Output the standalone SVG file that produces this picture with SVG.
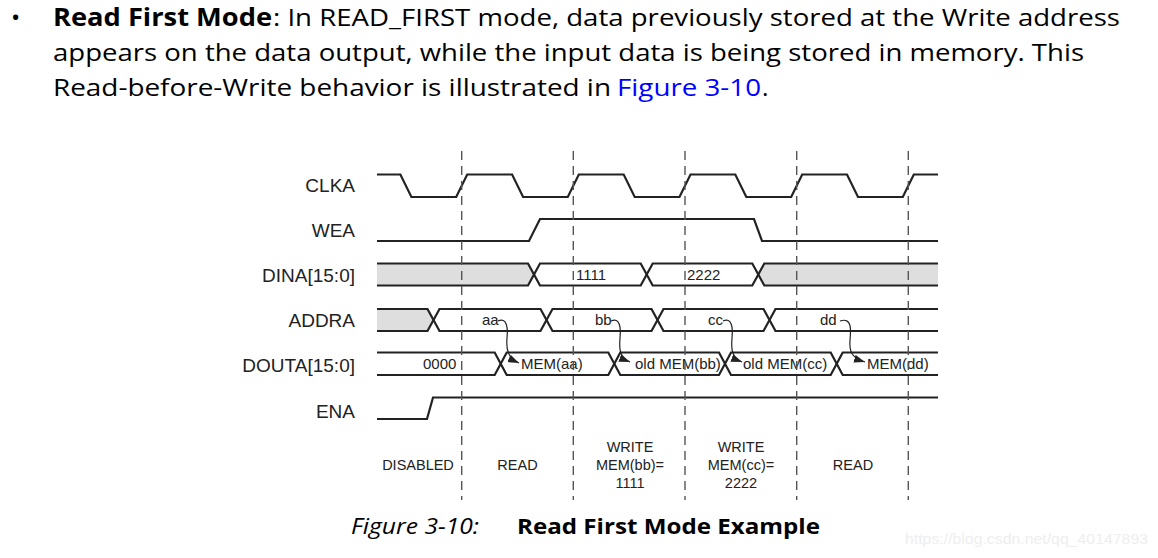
<svg xmlns="http://www.w3.org/2000/svg" width="1158" height="558" viewBox="0 0 1158 558">
<style>
.hdr{font-family:"Open Sans","Noto Sans",sans-serif;font-size:24.5px;fill:#000}
.b{font-weight:bold}
.lnk{fill:#0000ff}
.sig{font-family:"Liberation Sans",Arial,sans-serif;font-size:19px;fill:#222;text-anchor:end}
.val{font-family:"Liberation Sans",Arial,sans-serif;font-size:15px;fill:#222}
.ph{font-family:"Liberation Sans",Arial,sans-serif;font-size:14.5px;fill:#222;text-anchor:middle}
.w{fill:none;stroke:#222;stroke-width:2.2;stroke-linejoin:miter}
.g{fill:#dedede;stroke:none}
.dash{stroke:#555;stroke-width:1.4;stroke-dasharray:9 6;fill:none}
.arr{fill:none;stroke:#222;stroke-width:1.2}
.cap{font-family:"Open Sans","Noto Sans",sans-serif;font-size:21px;fill:#000}
.wm{font-family:"Liberation Sans",Arial,sans-serif;font-size:14px;fill:#eeeeee}
</style>
<defs>
<marker id="ah" markerUnits="userSpaceOnUse" markerWidth="12" markerHeight="10" refX="11" refY="4" orient="auto">
<path d="M0,0 L11,4 L0,8 Z" fill="#222"/>
</marker>
</defs>
<rect width="1158" height="558" fill="#fff"/>

<g id="header">
<text class="hdr" x="11" y="26">•</text>
<text class="hdr b" x="53" y="26" textLength="219" lengthAdjust="spacingAndGlyphs">Read First Mode</text>
<text class="hdr" x="273" y="26" textLength="847" lengthAdjust="spacingAndGlyphs">: In READ_FIRST mode, data previously stored at the Write address</text>
<text class="hdr" x="53" y="61" textLength="1031" lengthAdjust="spacingAndGlyphs">appears on the data output, while the input data is being stored in memory. This</text>
<text class="hdr" x="53" y="96" textLength="558" lengthAdjust="spacingAndGlyphs">Read-before-Write behavior is illustrated in</text>
<text class="hdr lnk" x="617" y="96" textLength="144" lengthAdjust="spacingAndGlyphs">Figure 3-10</text>
<text class="hdr" x="762" y="96">.</text>
</g>

<g id="CLKA">
<text class="sig" x="355" y="192">CLKA</text>
<path class="w" d="M377,174.5 H400.4 L411.4,197 H456.2 L467.2,174.5 H512.1 L523.1,197 H567.8 L578.8,174.5 H623.7 L634.7,197 H679.5 L690.5,174.5 H735.3 L746.3,197 H791.2 L802.2,174.5 H847 L858,197 H902.8 L913.8,174.5 H938"/>
</g>

<g id="WEA">
<text class="sig" x="355" y="237">WEA</text>
<path class="w" d="M377,241 H529 L540,219 H754 L762,241 H938"/>
</g>

<g id="DINA">
<text class="sig" x="355" y="282">DINA[15:0]</text>
<path class="g" d="M377,263.5 H528 L534,274.5 L528,285.5 H377 Z"/>
<path class="g" d="M938,263.5 H764.3 L758.3,274.5 L764.3,285.5 H938 Z"/>
<path class="w" d="M377,263.5 H528 L534,274.5 L528,285.5 H377"/>
<path class="w" d="M534,274.5 L540,263.5 H640.7 L646.7,274.5 L640.7,285.5 H540 Z"/>
<path class="w" d="M646.7,274.5 L652.7,263.5 H752.3 L758.3,274.5 L752.3,285.5 H652.7 Z"/>
<path class="w" d="M938,263.5 H764.3 L758.3,274.5 L764.3,285.5 H938"/>
<text class="val" x="576" y="280">1111</text>
<text class="val" x="687" y="280">2222</text>
</g>

<g id="ADDRA">
<text class="sig" x="355" y="327">ADDRA</text>
<path class="g" d="M377,309 H427.5 L433.5,320 L427.5,331 H377 Z"/>
<path class="w" d="M377,309 H427.5 L433.5,320 L427.5,331 H377"/>
<path class="w" d="M433.5,320 L439.5,309 H540.5 L546.5,320 L540.5,331 H439.5 Z"/>
<path class="w" d="M546.5,320 L552.5,309 H651.5 L657.5,320 L651.5,331 H552.5 Z"/>
<path class="w" d="M657.5,320 L663.5,309 H763.5 L769.5,320 L763.5,331 H663.5 Z"/>
<path class="w" d="M938,309 H775.5 L769.5,320 L775.5,331 H938"/>
<text class="val" x="482" y="325">aa</text>
<text class="val" x="595" y="325">bb</text>
<text class="val" x="708" y="325">cc</text>
<text class="val" x="820" y="325">dd</text>
</g>

<g id="DOUTA">
<text class="sig" x="355" y="372">DOUTA[15:0]</text>
<path class="w" d="M377,352.5 H494.7 L500.7,363.75 L494.7,375 H377"/>
<path class="w" d="M500.7,363.75 L506.7,352.5 H608.3 L614.3,363.75 L608.3,375 H506.7 Z"/>
<path class="w" d="M614.3,363.75 L620.3,352.5 H719 L725,363.75 L719,375 H620.3 Z"/>
<path class="w" d="M725,363.75 L731,352.5 H830.7 L836.7,363.75 L830.7,375 H731 Z"/>
<path class="w" d="M938,352.5 H842.7 L836.7,363.75 L842.7,375 H938"/>
<text class="val" x="423" y="369">0000</text>
<text class="val" x="521" y="369">MEM(aa)</text>
<text class="val" x="635" y="369">old MEM(bb)</text>
<text class="val" x="743" y="369">old MEM(cc)</text>
<text class="val" x="867" y="369">MEM(dd)</text>
</g>

<g id="ENA">
<text class="sig" x="355" y="418">ENA</text>
<path class="w" d="M377,419 H427 L433,397.5 H938"/>
</g>

<g id="connectors">
<path class="arr" marker-end="url(#ah)" d="M498,321 C507,317 508,328 507,338 C506,350 508,358 519,363"/>
<path class="arr" marker-end="url(#ah)" d="M611,321 C620,317 621,328 620,338 C619,350 620,358 630,362"/>
<path class="arr" marker-end="url(#ah)" d="M723,321 C732,317 733,328 732,338 C731,350 732,358 742,362"/>
<path class="arr" marker-end="url(#ah)" d="M840,321 C852,317 851,330 850,340 C849,352 852,358 865,362"/>
</g>

<g id="cycle-lines">
<line class="dash" x1="461.7" y1="151" x2="461.7" y2="500"/>
<line class="dash" x1="573.3" y1="151" x2="573.3" y2="500"/>
<line class="dash" x1="685" y1="151" x2="685" y2="500"/>
<line class="dash" x1="796.7" y1="151" x2="796.7" y2="500"/>
<line class="dash" x1="908.3" y1="151" x2="908.3" y2="500"/>
</g>

<g id="phases">
<text class="ph" x="418" y="470">DISABLED</text>
<text class="ph" x="517.5" y="470">READ</text>
<text class="ph" x="630" y="452">WRITE</text>
<text class="ph" x="630" y="470">MEM(bb)=</text>
<text class="ph" x="630" y="488">1111</text>
<text class="ph" x="741" y="452">WRITE</text>
<text class="ph" x="741" y="470">MEM(cc)=</text>
<text class="ph" x="741" y="488">2222</text>
<text class="ph" x="853" y="470">READ</text>
</g>

<g id="caption">
<text class="cap" x="351" y="534" font-style="italic" textLength="128" lengthAdjust="spacingAndGlyphs">Figure 3-10:</text>
<text class="cap b" x="517" y="534" textLength="303" lengthAdjust="spacingAndGlyphs">Read First Mode Example</text>
</g>

<text class="wm" x="905" y="544" textLength="243" lengthAdjust="spacingAndGlyphs">https://blog.csdn.net/qq_40147893</text>
</svg>
